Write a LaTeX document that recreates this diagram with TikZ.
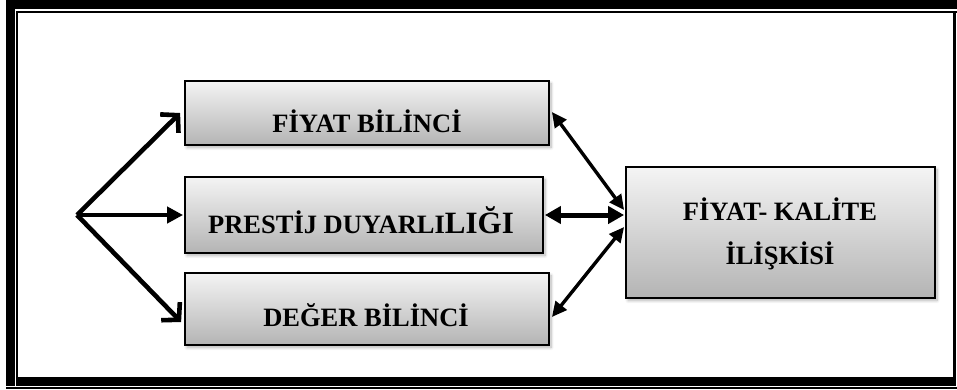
\documentclass[tikz,border=0pt]{standalone}
\usepackage{fontspec}
\setmainfont{Liberation Serif}
\usetikzlibrary{arrows.meta,shadows.blur,calc}

\definecolor{boxtop}{RGB}{244,244,244}
\definecolor{boxbot}{RGB}{180,180,180}

\tikzset{
  box/.style={draw=black, line width=1.8pt, top color=boxtop, bottom color=boxbot,
    inner sep=0pt,
    blur shadow={shadow xshift=2pt, shadow yshift=-2.5pt, shadow blur steps=8,
      shadow blur radius=3pt, shadow opacity=30}},
  lbl/.style={inner sep=0pt, font=\bfseries\fontsize{26.5}{30}\selectfont},
  fanarrow/.style={line width=4.6pt, -{Straight Barb[length=12pt,width=26pt]}},
  fanmid/.style={line width=4.4pt, -{Triangle[length=16pt,width=16pt]}},
  linkarrow/.style={line width=3.4pt, {Triangle[length=15pt,width=14pt]}-{Triangle[length=15pt,width=14pt]}},
  linkmid/.style={line width=5pt, {Triangle[length=16pt,width=17pt]}-{Triangle[length=16pt,width=17pt]}},
}

\begin{document}
\begin{tikzpicture}[x=1pt,y=-1pt]
  \useasboundingbox (0,0) rectangle (957,389);

  % page border: thick/thin double rule
  \fill[black] (6,0) rectangle (957,9);
  \fill[black] (6,0) rectangle (15,386);
  \fill[black] (16,11) rectangle (957,12.6);
  \fill[black] (16,11) rectangle (18,386);
  \fill[black] (953,11) rectangle (956,386);
  \fill[black] (16,377) rectangle (956,386);
  \fill[black] (6,387.4) rectangle (957,389);

  % boxes
  \node[box, minimum width=364pt, minimum height=64pt] (fb) at (367,113) {};
  \node[box, minimum width=358pt, minimum height=76pt] (pd) at (364,215) {};
  \node[box, minimum width=364pt, minimum height=72pt] (db) at (367,309) {};
  \node[box, minimum width=309pt, minimum height=131pt] (fk) at (780.5,232.5) {};

  % labels
  \node[lbl, anchor=base] (tfb) at (367,132) {FİYAT BİLİNCİ};
  \node[lbl, anchor=base] (tpd) at (361,233) {PRESTİJ DUYARLI{\fontsize{31}{34}\selectfont LIĞI}};
  \node[lbl, anchor=base] (tdb) at (366,326) {DEĞER BİLİNCİ};
  \node[lbl, anchor=base] (tfk1) at (780,220) {FİYAT- KALİTE};
  \node[lbl, anchor=base] (tfk2) at (780,264) {İLİŞKİSİ};

  % fan of arrows from the common origin
  \coordinate (src) at (77,215);
  \draw[fanarrow] (src) -- ([xshift=-4pt]fb.west);
  \draw[fanmid] (src) -- ([xshift=-1pt]pd.west);
  \draw[fanarrow] (src) -- ([xshift=-3pt,yshift=-13pt]db.west);

  % two-way links to the price-quality box
  \draw[linkarrow] ([xshift=2pt,yshift=1pt]fb.east) -- ([xshift=-1pt,yshift=22.5pt]fk.west);
  \draw[linkmid] ([xshift=1pt]pd.east) -- ([xshift=-1pt]fk.west |- pd.east);
  \draw[linkarrow] ([xshift=2pt,yshift=-8pt]db.east) -- ([xshift=-1pt,yshift=5.5pt]fk.west);
\end{tikzpicture}
\end{document}
